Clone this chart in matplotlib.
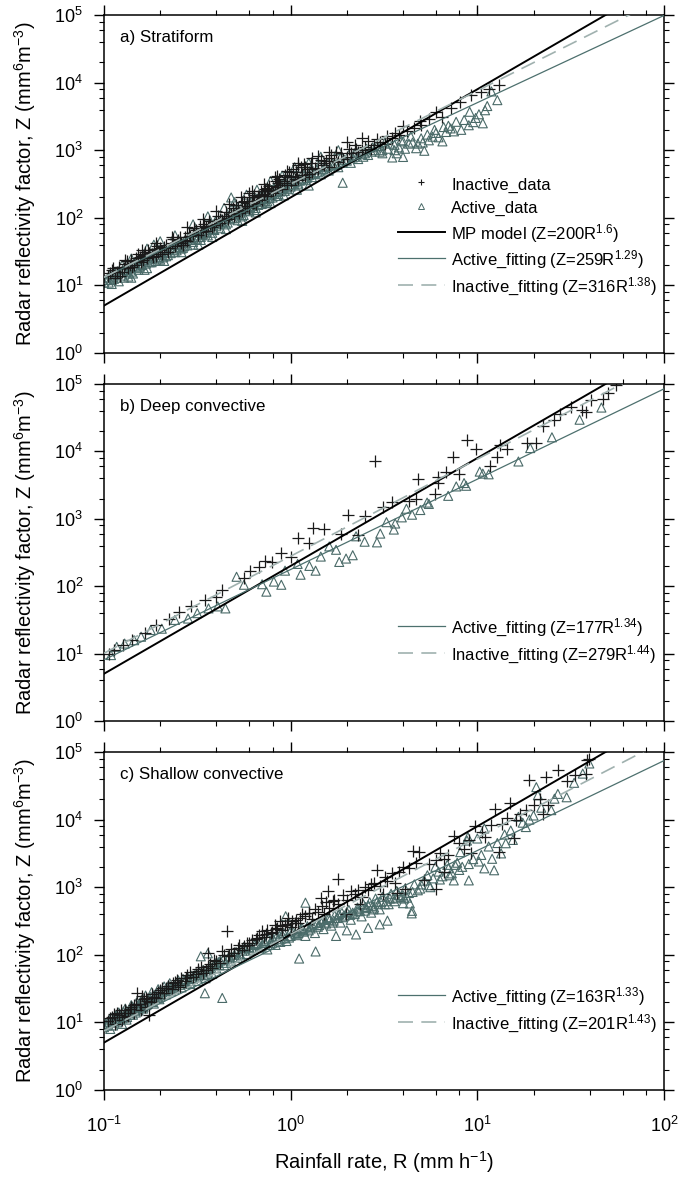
import numpy as np
import matplotlib
matplotlib.use('Agg')
import matplotlib.pyplot as plt
from matplotlib.ticker import LogLocator, NullFormatter
from matplotlib.legend_handler import HandlerLine2D
from matplotlib.lines import Line2D

plt.rcParams['font.family'] = ['Liberation Sans', 'DejaVu Sans']
plt.rcParams['mathtext.fontset'] = 'custom'
plt.rcParams['mathtext.rm'] = 'Liberation Sans'
plt.rcParams['mathtext.it'] = 'Liberation Sans:italic'
plt.rcParams['mathtext.bf'] = 'Liberation Sans:bold'

# ---------------- data ----------------
panel_titles = ['a) Stratiform', 'b) Deep convective', 'c) Shallow convective']
mp_coef, mp_exp = 200, 1.6
active_coef = [259, 177, 163]
active_exp = [1.29, 1.34, 1.33]
inactive_coef = [316, 279, 201]
inactive_exp = [1.38, 1.44, 1.43]
fit_R = np.array([0.1, 100.0])

a_inactive_R = [0.105, 0.11, 0.115, 0.12, 0.125, 0.13, 0.135, 0.14, 0.145, 0.15, 0.16, 0.164, 0.165, 0.17, 0.18, 0.185,
                0.19, 0.2, 0.21, 0.22, 0.23, 0.24, 0.25, 0.26, 0.27, 0.28, 0.3, 0.31, 0.32, 0.34, 0.35, 0.37, 0.38, 0.4,
                0.42, 0.44, 0.46, 0.48, 0.5, 0.52, 0.55, 0.55, 0.58, 0.6, 0.6, 0.62, 0.65, 0.68, 0.7, 0.72, 0.75, 0.75,
                0.78, 0.8, 0.85, 0.85, 0.9, 0.95, 1.0, 1.05, 1.1, 1.1, 1.15, 1.2, 1.2, 1.3, 1.4, 1.4, 1.5, 1.6, 1.6, 1.7,
                1.8, 2.0, 2.1, 2.2, 2.3, 2.5, 2.7, 3.0, 3.2, 3.5, 3.8, 4.2, 4.6, 5.0, 5.5, 6.0, 6.5, 7.2, 8.1, 9.2, 10.5,
                11.5, 13.1,
                0.108, 0.118, 0.128, 0.138, 0.148, 0.158, 0.175, 0.195, 0.205, 0.225, 0.245, 0.265, 0.29, 0.33, 0.36,
                0.39, 0.43, 0.47, 0.53, 0.57, 0.63, 0.66, 0.7, 0.82, 0.88, 0.92, 1.0, 1.08, 1.25, 1.35, 1.5, 1.9, 2.4, 2.8,
                0.112, 0.122, 0.132, 0.142, 0.152, 0.162, 0.172, 0.182, 0.192, 0.215, 0.235, 0.255, 0.285, 0.305, 0.325,
                0.345, 0.365, 0.41, 0.45, 0.49, 0.51, 0.56, 0.6, 0.64, 0.69, 0.73, 0.77, 0.83, 0.87, 0.93, 0.98, 1.03,
                1.13, 1.18, 1.28, 1.45, 1.65, 1.75, 2.05, 2.6, 3.3, 4.0, 4.9,
                0.155, 0.2, 0.27, 0.35, 0.42, 0.52, 0.58, 0.67, 0.76, 0.86, 0.96, 1.07, 1.22, 1.55, 1.85, 2.25, 2.9, 3.6,
                0.13, 0.16, 0.19, 0.23, 0.28, 0.34, 0.4, 0.47, 0.54, 0.62, 0.72, 0.82, 0.95, 1.1, 1.3, 1.6, 2.0, 2.4]
a_inactive_Z = [14, 17, 13, 19, 16, 21, 18, 24, 20, 23, 27, 28, 31, 25, 29, 34,
                27, 33, 37, 31, 42, 38, 47, 43, 52, 46, 58, 65, 55, 70, 63, 80, 72, 90,
                84, 100, 95, 115, 108, 130, 125, 170, 150, 140, 230, 175, 160, 200, 185, 225, 210, 280,
                250, 235, 290, 420, 270, 330, 310, 380, 360, 650, 430, 400, 560, 480, 520, 820, 600, 560, 760, 700,
                660, 800, 900, 1200, 950, 1100, 1050, 1300, 1250, 1500, 1700, 1900, 2100, 2350, 2900, 3700, 3100, 4200,
                5100, 6600, 7200, 8000, 9100,
                15, 16, 18, 20, 25, 22, 30, 31, 29, 36, 44, 40, 54, 62, 75,
                78, 92, 105, 118, 140, 165, 185, 215, 260, 310, 350, 420, 400, 450, 540, 650, 750, 1000, 1200,
                18, 14, 23, 19, 29, 24, 33, 26, 38, 40, 48, 52, 60, 70, 75,
                82, 90, 105, 120, 140, 155, 180, 200, 215, 250, 270, 300, 350, 380, 430, 470, 520,
                560, 620, 650, 720, 850, 950, 1050, 1350, 1600, 2300, 2700,
                26, 36, 47, 72, 95, 140, 165, 210, 260, 330, 400, 470, 520, 700, 900, 1050, 1450, 1800,
                24, 33, 42, 52, 72, 95, 125, 160, 200, 250, 320, 400, 500, 600, 760, 950, 1300, 1500]

a_active_R = [0.1, 0.105, 0.11, 0.115, 0.12, 0.125, 0.13, 0.135, 0.14, 0.145, 0.15, 0.155, 0.16, 0.165, 0.17, 0.175,
              0.18, 0.185, 0.19, 0.2, 0.2, 0.21, 0.22, 0.23, 0.24, 0.25, 0.26, 0.27, 0.28, 0.29, 0.3, 0.31, 0.32, 0.33,
              0.34, 0.36, 0.37, 0.38, 0.4, 0.42, 0.43, 0.45, 0.47, 0.48, 0.5, 0.52, 0.54, 0.56, 0.58, 0.6, 0.63, 0.65,
              0.68, 0.7, 0.73, 0.75, 0.78, 0.8, 0.83, 0.86, 0.9, 0.93, 0.97, 1.0, 1.05, 1.1, 1.15, 1.2, 1.25, 1.3, 1.4,
              1.45, 1.5, 1.6, 1.7, 1.8, 1.9, 2.0, 2.1, 2.2, 2.3, 2.5, 2.6, 2.8, 3.0, 3.0, 3.3, 3.5, 3.6, 3.8, 4.0, 4.0,
              4.3, 4.7, 5.0, 5.2, 5.5, 5.75, 6.0, 6.5, 6.8, 7.2, 7.7, 8.2, 9.0, 9.1, 9.8, 10.7, 11.0, 11.9, 12.8,
              0.103, 0.108, 0.113, 0.118, 0.123, 0.128, 0.133, 0.138, 0.143, 0.148, 0.153, 0.158, 0.163, 0.168, 0.178,
              0.188, 0.198, 0.208, 0.218, 0.235, 0.255, 0.275, 0.295, 0.315, 0.335, 0.355, 0.385, 0.41, 0.44, 0.49,
              0.53, 0.57, 0.61, 0.67, 0.72, 0.77, 0.82, 0.88, 0.95, 1.03, 1.12, 1.22, 1.35, 1.55, 1.75, 1.95, 2.15,
              2.4, 2.7, 3.1, 3.4, 3.9, 4.5,
              0.106, 0.116, 0.126, 0.136, 0.146, 0.156, 0.166, 0.176, 0.186, 0.196, 0.212, 0.228, 0.238, 0.252, 0.268,
              0.285, 0.305, 0.325, 0.345, 0.37, 0.395, 0.425, 0.455, 0.475, 0.51, 0.545, 0.59, 0.62, 0.66, 0.71, 0.76,
              0.81, 0.87, 0.92, 0.99, 1.06, 1.16, 1.28, 1.42, 1.58, 1.85, 2.05, 2.25, 2.55, 2.9, 3.2, 3.7, 4.1, 4.8,
              5.4, 6.2, 7.0, 8.5, 10.2, 11.3,
              0.215, 0.245, 0.265, 0.3, 0.33, 0.39, 0.46, 0.5, 0.55, 0.6, 0.64, 0.7, 0.74, 0.8, 0.85, 0.9, 0.96, 1.02,
              1.1, 1.18, 1.3, 1.38, 1.52, 1.68, 1.9, 2.2, 2.45, 2.75, 3.1, 3.6, 4.4, 5.1, 5.9, 6.6, 7.5, 9.5,
              0.125, 0.14, 0.17, 0.2, 0.24, 0.3, 0.36, 0.44, 0.5, 0.58, 0.66, 0.78, 0.9, 1.05, 1.25, 1.45, 1.8,
              0.11, 0.14, 0.17, 0.21, 0.26, 0.32, 0.38, 0.45, 0.55, 0.65, 0.78, 0.92, 1.08, 1.25]
a_active_Z = [11, 13, 12, 15, 11.5, 14, 17, 13.5, 16, 21, 18, 23, 20, 17, 24, 27,
              22, 40, 26, 30, 24, 33, 28, 36, 31, 40, 35, 46, 39, 50, 44, 62, 52, 47,
              58, 55, 66, 60, 75, 70, 85, 80, 95, 200, 100, 92, 120, 110, 135, 125, 150, 140,
              170, 160, 190, 175, 215, 200, 240, 225, 270, 250, 300, 290, 340, 320, 380, 360, 430, 400, 470,
              440, 530, 500, 600, 560, 330, 700, 650, 800, 740, 900, 850, 1000, 950, 1150, 1050, 780, 1200, 1100, 794, 1350,
              1250, 1070, 1500, 980, 1400, 1585, 1800, 1350, 1860, 2100, 2630, 2000, 2340, 3700, 3000, 2500, 3900, 7400, 5500,
              12, 14.5, 12.5, 13, 15.5, 13, 16, 18, 15, 19, 17, 21, 24, 21, 25,
              23, 28, 26, 31, 34, 37, 42, 47, 49, 56, 62, 68, 80, 88, 98,
              112, 128, 138, 155, 175, 195, 225, 245, 280, 310, 355, 390, 450, 560, 620, 720, 780,
              870, 950, 1000, 1250, 1400, 1300,
              11, 16, 17, 15, 22, 19, 26, 22, 30, 25, 35, 30, 40, 45, 38,
              52, 55, 60, 65, 75, 88, 95, 105, 115, 125, 140, 160, 175, 190, 210, 240,
              270, 300, 330, 370, 420, 460, 520, 600, 650, 780, 850, 950, 1050, 1150, 1300, 900, 1050, 1250,
              1700, 1550, 2300, 2800, 3400, 4500,
              27, 33, 36, 40, 52, 66, 85, 115, 105, 145, 130, 185, 165, 230, 210, 300, 265, 360,
              300, 420, 450, 520, 580, 640, 650, 900, 800, 1100, 900, 1000, 1600, 1300, 2000, 2200, 1900, 2600,
              20, 25, 35, 45, 55, 80, 105, 140, 170, 220, 260, 350, 420, 560, 650, 800, 1000,
              10.5, 13, 18, 23, 31, 40, 52, 68, 90, 120, 165, 215, 260, 300]

b_inactive_R = [0.106, 0.113, 0.126, 0.142, 0.166, 0.19, 0.222, 0.251, 0.292, 0.347, 0.398, 0.43, 0.562, 0.603, 0.676,
                0.733, 0.794, 0.883, 1.0, 1.1, 1.26, 1.31, 1.51, 1.86, 2.02, 2.29, 2.49, 2.84, 3.13, 3.47, 4.3, 4.68,
                4.82, 5.93, 6.17, 6.17, 6.76, 7.41, 7.94, 8.85, 9.79, 11.7, 12.7, 13.3, 14.4, 18.4, 20.7, 22.4, 25.9,
                27.8, 31.8, 36.5, 38.0, 40.8, 47.2, 50.1, 55.6]
b_inactive_Z = [10, 11.2, 13.5, 15.8, 20.4, 26.3, 33, 41.7, 50, 63, 69, 89, 132, 170, 195,
                234, 229, 309, 275, 513, 437, 724, 708, 603, 1120, 575, 1100, 7240, 1510, 1780, 1820, 1950,
                3890, 2340, 4170, 3390, 5010, 8130, 4680, 14800, 10700, 6170, 8320, 12300, 11000, 13500, 13500, 24000, 29500,
                36300, 45700, 40700, 38900, 57500, 60300, 72400, 95500]

b_active_R = [0.109, 0.117, 0.129, 0.145, 0.158, 0.178, 0.204, 0.24, 0.282, 0.316, 0.363, 0.407, 0.447, 0.513, 0.562,
              0.703, 0.741, 0.813, 0.891, 0.933, 1.09, 1.13, 1.26, 1.36, 1.45, 1.61, 1.75, 1.82, 1.98, 2.15, 2.24,
              2.49, 2.9, 3.02, 3.26, 3.57, 3.63, 3.94, 4.17, 4.47, 4.95, 5.38, 5.5, 6.98, 7.71, 8.49, 8.71, 10.3,
              10.7, 11.5, 16.6, 19.2, 25.1, 35.3, 46.2]
b_active_Z = [9.5, 12.6, 14.1, 15.8, 17.8, 22.4, 23.4, 31.6, 33.1, 39.8, 46.8, 50.1, 46.8, 138, 105,
              107, 83, 117, 105, 170, 214, 148, 200, 170, 275, 389, 347, 229, 257, 288, 550,
              457, 447, 603, 891, 692, 851, 1050, 1410, 1150, 1350, 1740, 1660, 2190, 3020, 3390, 3090, 5010,
              4680, 4570, 7080, 11200, 16200, 29500, 44700]

c_inactive_R = [0.105, 0.11, 0.115, 0.12, 0.125, 0.13, 0.135, 0.14, 0.145, 0.15, 0.155, 0.16, 0.165, 0.17, 0.175, 0.18,
                0.19, 0.2, 0.21, 0.22, 0.23, 0.24, 0.25, 0.26, 0.27, 0.28, 0.3, 0.32, 0.34, 0.36, 0.36, 0.38, 0.4, 0.42,
                0.43, 0.455, 0.46, 0.5, 0.52, 0.55, 0.58, 0.6, 0.6, 0.65, 0.7, 0.72, 0.79, 0.78, 0.85, 0.9, 0.9, 0.95,
                1.0, 1.06, 1.07, 1.1, 1.2, 1.26, 1.3, 1.4, 1.45, 1.5, 1.58, 1.6, 1.79, 1.8, 1.98, 2.0, 2.2, 2.34, 2.4,
                2.6, 2.9, 3.0, 3.13, 3.3, 3.6, 3.7, 4.0, 4.1, 4.5, 4.85, 5.15, 6.0, 6.0, 6.6, 6.6, 7.5, 8.5, 9.2, 9.7,
                10.6, 11.8, 12.4, 13.1, 13.6, 15.0, 15.8, 16.2, 18.2, 18.8, 20.2, 21.6, 22.4, 23.4, 23.9, 27.0, 30.2,
                33.3, 38.0, 38.5, 39.8,
                0.108, 0.118, 0.128, 0.138, 0.148, 0.158, 0.168, 0.178, 0.195, 0.215, 0.235, 0.255, 0.275, 0.29, 0.31,
                0.33, 0.35, 0.39, 0.44, 0.48, 0.53, 0.62, 0.68, 0.75, 0.82, 0.88, 0.97, 1.15, 1.35, 1.55, 1.7, 1.9, 2.1,
                2.5, 2.8, 3.2, 3.5, 4.3, 5.5, 7.0, 8.0, 11.0, 14.5, 17.0,
                0.113, 0.124, 0.134, 0.144, 0.163, 0.185, 0.205, 0.245, 0.32, 0.37, 0.47, 0.56, 0.66, 0.74, 0.83, 0.93,
                1.02, 1.12, 1.25, 1.48, 1.68, 2.3, 2.7, 3.8, 4.7, 6.3, 9.0]
c_inactive_Z = [10.5, 12, 9.5, 13, 11, 15, 12.5, 17, 14, 27.5, 19, 24.5, 17, 21, 13, 26,
                23, 30, 27, 35, 31, 40, 36, 45, 41, 50, 47, 58, 54, 68, 107, 63, 80, 75,
                112, 224, 95, 105, 125, 118, 150, 151, 140, 170, 224, 185, 214, 210, 250, 263, 230, 290,
                260, 295, 330, 300, 370, 417, 340, 430, 690, 400, 870, 500, 1300, 560, 400, 650, 800, 562, 720,
                900, 1800, 1050, 794, 1250, 1150, 830, 2000, 955, 3400, 3300, 1260, 955, 2510, 2630, 1700, 5750, 3700, 3160, 8100,
                6460, 8300, 14500, 3300, 8700, 17800, 5400, 9800, 13800, 38000, 16200, 20400, 12300, 42700, 16200, 53700, 37200,
                45700, 47900, 75900, 77600,
                11.5, 14, 12, 16, 19, 15, 23, 20, 28, 32, 38, 33, 46, 55, 52,
                66, 60, 85, 100, 120, 140, 165, 195, 230, 280, 320, 350, 400, 480, 600, 650, 760, 880,
                1000, 1150, 1400, 1600, 1900, 2200, 3000, 4500, 5600, 10500, 12000,
                13.5, 15.5, 14, 18, 22, 24, 32, 42, 62, 72, 100, 135, 180, 200, 240, 280,
                320, 350, 420, 520, 620, 900, 1100, 1700, 2300, 3200, 5000]

c_active_R = [0.1, 0.105, 0.108, 0.11, 0.112, 0.115, 0.118, 0.12, 0.122, 0.125, 0.128, 0.13, 0.133, 0.136, 0.14, 0.143,
              0.146, 0.15, 0.153, 0.156, 0.16, 0.163, 0.167, 0.17, 0.175, 0.18, 0.185, 0.19, 0.195, 0.2, 0.205, 0.21,
              0.215, 0.22, 0.225, 0.23, 0.24, 0.25, 0.26, 0.27, 0.28, 0.29, 0.3, 0.31, 0.32, 0.33, 0.33, 0.34, 0.347,
              0.35, 0.36, 0.36, 0.37, 0.38, 0.4, 0.41, 0.43, 0.44, 0.46, 0.48, 0.5, 0.52, 0.55, 0.58, 0.6, 0.63, 0.66,
              0.7, 0.72, 0.75, 0.78, 0.8, 0.83, 0.86, 0.9, 0.94, 0.95, 1.0, 1.0, 1.1, 1.11, 1.15, 1.2, 1.2, 1.25, 1.3,
              1.35, 1.36, 1.4, 1.45, 1.5, 1.55, 1.6, 1.65, 1.7, 1.75, 1.8, 1.85, 1.9, 2.0, 2.0, 2.1, 2.2, 2.24, 2.3,
              2.4, 2.5, 2.6, 2.6, 2.7, 2.8, 2.9, 3.0, 3.0, 3.2, 3.3, 3.4, 3.6, 3.8, 4.0, 4.0, 4.2, 4.35, 4.45, 4.47,
              4.94, 5.5, 5.96, 6.9, 7.48, 7.6, 8.1, 8.8, 8.9, 9.0, 10.0, 10.9, 10.9, 12.0, 12.3, 13.4, 14.2, 15.1,
              16.6, 18.2, 20.0, 20.7, 21.1, 24.9, 25.9, 30.1, 36.7, 39.8,
              0.102, 0.107, 0.113, 0.117, 0.123, 0.127, 0.132, 0.138, 0.142, 0.148, 0.152, 0.158, 0.162, 0.172, 0.178,
              0.183, 0.192, 0.198, 0.212, 0.222, 0.232, 0.245, 0.255, 0.265, 0.285, 0.295, 0.305, 0.325, 0.345, 0.365,
              0.39, 0.42, 0.45, 0.47, 0.51, 0.54, 0.57, 0.61, 0.64, 0.68, 0.73, 0.77, 0.81, 0.84, 0.88, 0.92, 0.98,
              1.03, 1.08, 1.13, 1.18, 1.23, 1.28, 1.33, 1.42, 1.48, 1.52, 1.58, 1.62, 1.72, 1.78, 1.88, 1.95, 2.05,
              2.15, 2.28, 2.35, 2.45, 2.55, 2.65, 2.75, 2.85, 2.95, 3.1, 3.25, 3.45, 3.55, 3.7, 3.9, 4.1, 4.3, 4.6,
              4.8, 5.2, 5.4, 5.8, 6.2, 6.5, 7.0, 7.3, 7.8, 8.3, 9.5, 10.5, 11.5, 12.8, 14.0, 15.5, 17.5, 19.0, 22.0,
              27.0, 33.0,
              0.104, 0.109, 0.116, 0.121, 0.126, 0.131, 0.137, 0.141, 0.147, 0.151, 0.157, 0.161, 0.169, 0.174, 0.181,
              0.187, 0.194, 0.203, 0.218, 0.228, 0.238, 0.248, 0.268, 0.278, 0.298, 0.318, 0.338, 0.358, 0.375, 0.395,
              0.415, 0.435, 0.49, 0.53, 0.56, 0.62, 0.67, 0.71, 0.76, 0.79, 0.87, 0.93, 0.99, 1.06, 1.17, 1.27, 1.38,
              1.5, 1.68, 1.82, 2.08, 2.3, 2.52, 2.78, 3.05, 3.35, 3.65, 4.05, 4.5, 5.0, 5.6, 6.3, 7.1, 8.0, 9.0, 10.2]
c_active_Z = [8.5, 10, 8, 11.5, 9, 12.5, 10, 14, 11, 9.5, 13, 16, 12, 14.5, 18, 13,
              16, 20, 15, 18, 22, 17, 25, 20, 23, 28, 19, 25, 31, 24, 28, 34,
              26, 31, 38, 29, 35, 42, 33, 39, 47, 37, 44, 53, 41, 50, 95, 60, 27,
              45, 56, 105, 68, 52, 63, 78, 23, 70, 88, 80, 100, 90, 115, 103, 130, 118, 145,
              132, 160, 120, 150, 180, 140, 170, 200, 372, 160, 190, 230, 210, 88, 250, 190, 590, 230, 280,
              210, 112, 260, 310, 240, 290, 350, 270, 320, 190, 390, 300, 360, 430, 230, 330, 400, 200, 480,
              370, 450, 540, 250, 420, 500, 610, 470, 282, 560, 320, 680, 620, 760, 580, 760, 700, 575, 410, 447,
              955, 1070, 2000, 2140, 1260, 2140, 3300, 4900, 5500, 1260, 5250, 1900, 7400, 2630, 1780, 3160, 4470, 6900,
              11000, 7760, 11500, 30200, 22900, 13800, 20400, 21400, 47900, 67600,
              9.5, 11, 10.5, 13, 12, 14.5, 11, 15.5, 17, 14, 18, 21, 16, 19, 24,
              22, 27, 22, 30, 35, 32, 38, 36, 44, 41, 49, 46, 55, 50, 62,
              70, 82, 76, 95, 110, 98, 125, 115, 140, 125, 150, 140, 165, 185, 155, 210, 180,
              220, 195, 240, 220, 265, 245, 290, 275, 330, 300, 360, 330, 380, 350, 420, 380, 460,
              420, 500, 450, 560, 490, 600, 530, 680, 560, 720, 620, 800, 680, 880, 720, 950, 820, 1100,
              900, 1250, 1500, 1350, 1700, 1450, 1900, 1600, 2300, 2000, 2600, 3000, 4000, 4500, 6000, 5000, 9000, 10000, 15000,
              24000, 35000,
              9, 10, 11, 12.5, 11.5, 14, 13, 16, 15, 17, 16.5, 19, 18, 21, 20,
              24, 23, 26, 29, 33, 31, 40, 42, 38, 45, 50, 57, 53, 64, 75,
              70, 85, 92, 105, 130, 125, 150, 140, 170, 160, 190, 175, 215, 205, 230, 260, 295,
              340, 300, 400, 390, 440, 510, 470, 600, 560, 700, 680, 850, 1100, 1000, 1300, 1500, 1800, 2200, 2400]

inactive_R = [a_inactive_R, b_inactive_R, c_inactive_R]
inactive_Z = [a_inactive_Z, b_inactive_Z, c_inactive_Z]
active_R = [a_active_R, b_active_R, c_active_R]
active_Z = [a_active_Z, b_active_Z, c_active_Z]

# ---------------- styles ----------------
c_plus = '#1a1a1a'
c_tri = '#4a6a68'
c_active_line = '#4d706e'
c_inactive_line = '#a0b1af'

class RightMarkerHandler(HandlerLine2D):
    def get_xdata(self, legend, xdescent, ydescent, width, height, fontsize):
        xdata = np.array([-xdescent, width - xdescent])
        return xdata, np.array([width - xdescent - 0.05 * width])

fig = plt.figure(figsize=(6.92, 11.78), dpi=100)
W, H = 692.0, 1178.0
left_px, right_px = 104, 664
panel_px = [(15, 353), (384, 721), (752, 1090)]

for i, (top, bot) in enumerate(panel_px):
    ax = fig.add_axes([left_px / W, 1 - bot / H, (right_px - left_px) / W, (bot - top) / H])
    ax.set_xscale('log')
    ax.set_yscale('log')

    ax.scatter(active_R[i], active_Z[i], marker='^', s=42, facecolors='none',
               edgecolors=c_tri, linewidths=0.8, zorder=2)
    ax.plot(inactive_R[i], inactive_Z[i], linestyle='none', marker='+', markersize=8,
            markeredgewidth=0.9, color=c_plus, zorder=2.5)

    ax.plot(fit_R, mp_coef * fit_R ** mp_exp, color='black', lw=1.4, zorder=4)
    ax.plot(fit_R, active_coef[i] * fit_R ** active_exp[i], color=c_active_line, lw=0.9, zorder=4)
    ax.plot(fit_R, inactive_coef[i] * fit_R ** inactive_exp[i], color=c_inactive_line, lw=1.2,
            dashes=(9, 5), zorder=4)

    ax.set_xlim(0.1, 100)
    ax.set_ylim(1, 1e5)
    for axis in (ax.xaxis, ax.yaxis):
        axis.set_major_locator(LogLocator(base=10, numticks=10))
        axis.set_minor_locator(LogLocator(base=10, subs=(2, 4, 6, 8), numticks=10))
        axis.set_minor_formatter(NullFormatter())
    ax.tick_params(which='both', direction='out', top=True, right=True,
                   labeltop=False, labelright=False, labelsize=13)
    ax.tick_params(which='major', length=7, width=1.0)
    ax.tick_params(which='minor', length=3.5, width=0.8)
    ax.tick_params(axis='y', which='major', pad=8)
    ax.tick_params(axis='x', which='major', pad=12)
    if i < 2:
        ax.tick_params(axis='x', labelbottom=False)
    else:
        ax.set_xlabel('Rainfall rate, R (mm h$^{-1}$)', fontsize=14.5, labelpad=9)
    for sp in ax.spines.values():
        sp.set_linewidth(1.1)
    ax.set_ylabel('Radar reflectivity factor, Z (mm$^{6}$m$^{-3}$)', fontsize=14.5)
    ax.yaxis.set_label_coords(-0.118, 0.5)

    ax.text(0.028, 0.932, panel_titles[i], transform=ax.transAxes, fontsize=12.2,
            ha='left', va='center')

    h_act = Line2D([], [], color=c_active_line, lw=0.9)
    h_inact = Line2D([], [], color=c_inactive_line, lw=1.2, dashes=(9, 5))
    lab_act = 'Active_fitting (Z=%dR$^{%s}$)' % (active_coef[i], ('%.2f' % active_exp[i]).rstrip('0'))
    lab_inact = 'Inactive_fitting (Z=%dR$^{%s}$)' % (inactive_coef[i], ('%.2f' % inactive_exp[i]).rstrip('0'))
    if i == 0:
        h_pl = Line2D([], [], linestyle='none', marker='+', markersize=5, markeredgewidth=0.8, color=c_plus)
        h_tr = Line2D([], [], linestyle='none', marker='^', markersize=4, markerfacecolor='none',
                      markeredgecolor=c_tri, markeredgewidth=0.7)
        h_mp = Line2D([], [], color='black', lw=1.4)
        handles = [h_pl, h_tr, h_mp, h_act, h_inact]
        labels = ['Inactive_data', 'Active_data', 'MP model (Z=200R$^{1.6}$)', lab_act, lab_inact]
    else:
        handles = [h_act, h_inact]
        labels = [lab_act, lab_inact]
    leg = ax.legend(handles, labels, loc='lower left', bbox_to_anchor=((398 - left_px) / 560.0, 55 / (bot - top)),
                    frameon=False, fontsize=12, handlelength=2.8, handletextpad=0.4, borderpad=0,
                    borderaxespad=0, labelspacing=0.27, handleheight=1.38, numpoints=1,
                    handler_map={Line2D: RightMarkerHandler(numpoints=1)})

fig.savefig('out.png', dpi=100)
